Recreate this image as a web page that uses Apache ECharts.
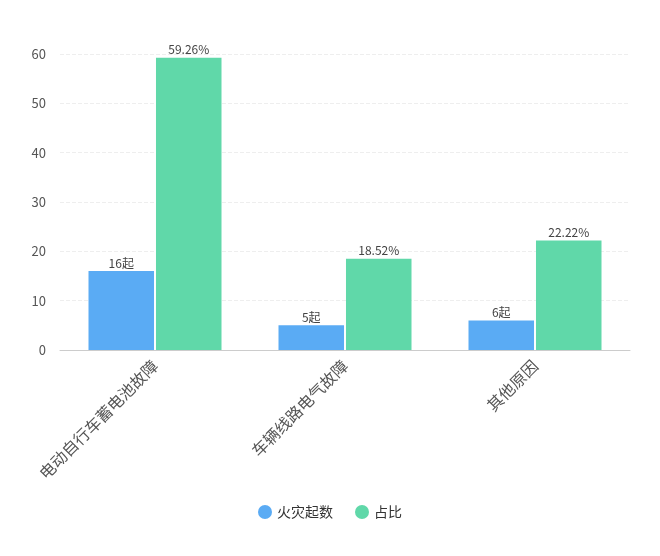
<!DOCTYPE html>
<html><head><meta charset="utf-8">
<script src="https://cdn.jsdelivr.net/npm/echarts@6/dist/echarts.min.js"></script>
<style>html,body{margin:0;padding:0;background:#fff}#c{width:660px;height:556px}</style>
</head><body><div id="c"></div>
<script>
const categories = ['电动自行车蓄电池故障', '车辆线路电气故障', '其他原因'];
const fireCounts = [16, 5, 6];
const shares = [59.26, 18.52, 22.22];
const seriesNames = ['火灾起数', '占比'];

const chart = echarts.init(document.getElementById('c'));
const font = '"Noto Sans CJK SC", "Noto Sans", sans-serif';
chart.setOption({
  animation: false,
  textStyle: { fontFamily: font },
  color: ['#5AABF4', '#60D8A9'],
  legend: {
    bottom: 32, left: 'center', icon: 'circle', itemWidth: 14, itemHeight: 14, itemGap: 22,
    textStyle: { fontSize: 14, color: '#333' },
    data: seriesNames
  },
  grid: { left: 60, right: 30, top: 54, bottom: 206 },
  xAxis: {
    type: 'category', data: categories,
    axisLine: { lineStyle: { color: '#ccc' } },
    axisTick: { alignWithLabel: true, lineStyle: { color: '#ccc' } },
    axisLabel: { rotate: 45, color: '#555', fontSize: 16, interval: 0, margin: 13 }
  },
  yAxis: {
    type: 'value', min: 0, max: 60, interval: 10,
    axisLine: { show: false }, axisTick: { show: false },
    axisLabel: { color: '#555', fontSize: 13, margin: 14 },
    splitLine: { lineStyle: { type: 'dashed', color: '#eee' } }
  },
  series: [
    { name: seriesNames[0], type: 'bar', data: fireCounts, barGap: '3%', barCategoryGap: '30%',
      label: { show: true, position: 'top', color: '#444', fontSize: 12, distance: 2, formatter: p => p.value + '起' } },
    { name: seriesNames[1], type: 'bar', data: shares,
      label: { show: true, position: 'top', color: '#444', fontSize: 12, distance: 2, formatter: p => p.value.toFixed(2) + '%' } }
  ]
});
</script></body></html>
